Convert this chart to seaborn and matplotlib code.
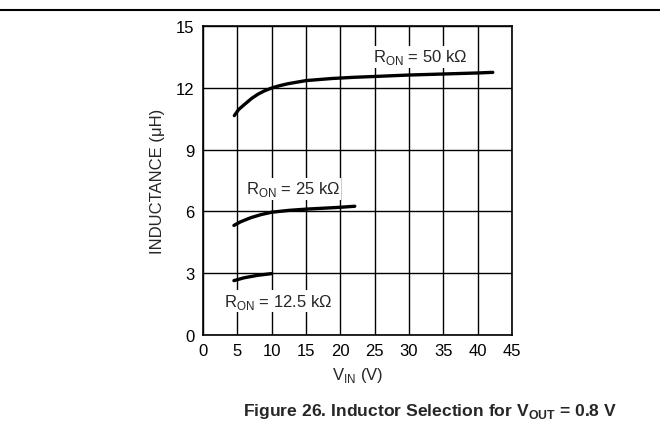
import numpy as np
import pandas as pd
import seaborn as sns
import matplotlib.pyplot as plt
from matplotlib.lines import Line2D

# curves
vin_50k = [4.56, 5.2, 6.1, 7.1, 8.05, 9.0, 10.0, 11.0, 12.4, 15.0, 18.7, 22.0, 25.0, 30.0, 35.0, 40.0, 42.2]
l_50k = [10.65, 10.95, 11.21, 11.49, 11.70, 11.86, 11.99, 12.09, 12.20, 12.35, 12.45, 12.51, 12.55, 12.62, 12.67, 12.72, 12.75]

vin_25k = [4.5, 5.5, 7.0, 8.5, 10.0, 12.5, 15.0, 20.0, 22.1]
l_25k = [5.32, 5.50, 5.70, 5.85, 5.96, 6.05, 6.11, 6.20, 6.25]

vin_12k5 = [4.5, 6.0, 8.0, 10.0]
l_12k5 = [2.64, 2.78, 2.90, 2.98]

curve_labels = [r'R$_{\mathrm{ON}}$ = 50 k$\Omega$',
                r'R$_{\mathrm{ON}}$ = 25 k$\Omega$',
                r'R$_{\mathrm{ON}}$ = 12.5 k$\Omega$']
label_pos = [(31.6, 13.5), (13.1, 7.1), (10.9, 1.65)]

x_ticks = [0, 5, 10, 15, 20, 25, 30, 35, 40, 45]
y_ticks = [0, 3, 6, 9, 12, 15]

df = pd.concat([
    pd.DataFrame({'vin': vin_50k, 'L': l_50k, 'ron': '50k'}),
    pd.DataFrame({'vin': vin_25k, 'L': l_25k, 'ron': '25k'}),
    pd.DataFrame({'vin': vin_12k5, 'L': l_12k5, 'ron': '12.5k'}),
])

sns.set_style('white')
plt.rcParams['font.family'] = ['Liberation Sans', 'DejaVu Sans']
plt.rcParams['mathtext.fontset'] = 'custom'
plt.rcParams['mathtext.rm'] = 'Liberation Sans'
plt.rcParams['mathtext.bf'] = 'Liberation Sans:bold'

fig = plt.figure(figsize=(6.6, 4.39), dpi=100)
ax = fig.add_axes([0.3076, 0.2346, 0.4682, 0.7039])

sns.lineplot(data=df, x='vin', y='L', units='ron', estimator=None,
             color='black', linewidth=2.4, legend=False, ax=ax, sort=False)

ax.set_xlim(0, 45)
ax.set_ylim(0, 15)
ax.set_xticks(x_ticks)
ax.set_yticks(y_ticks)
ax.grid(True, color='black', linewidth=1.0)
ax.set_axisbelow(True)
for s in ax.spines.values():
    s.set_color('black')
    s.set_linewidth(1.2)
ax.tick_params(length=0, labelsize=12, colors='black', pad=6)

ax.set_xlabel(r'V$_{\mathrm{IN}}$ (V)', fontsize=12, labelpad=5)
ax.set_ylabel('INDUCTANCE (μH)', fontsize=12, labelpad=8)

for txt, (x, y) in zip(curve_labels, label_pos):
    ax.text(x, y, txt, fontsize=12, ha='center', va='center',
            bbox=dict(facecolor='white', edgecolor='none', pad=1.0))

fig.text(430 / 660, 1 - 412 / 439,
         r'Figure 26. Inductor Selection for V$_{\mathbf{OUT}}$ = 0.8 V',
         fontsize=12.6, fontweight='bold', ha='center', va='center')

fig.add_artist(Line2D([0, 1], [1 - 10.5 / 439, 1 - 10.5 / 439],
                      color='black', linewidth=1.5, transform=fig.transFigure))

fig.savefig('out.png', dpi=100)
